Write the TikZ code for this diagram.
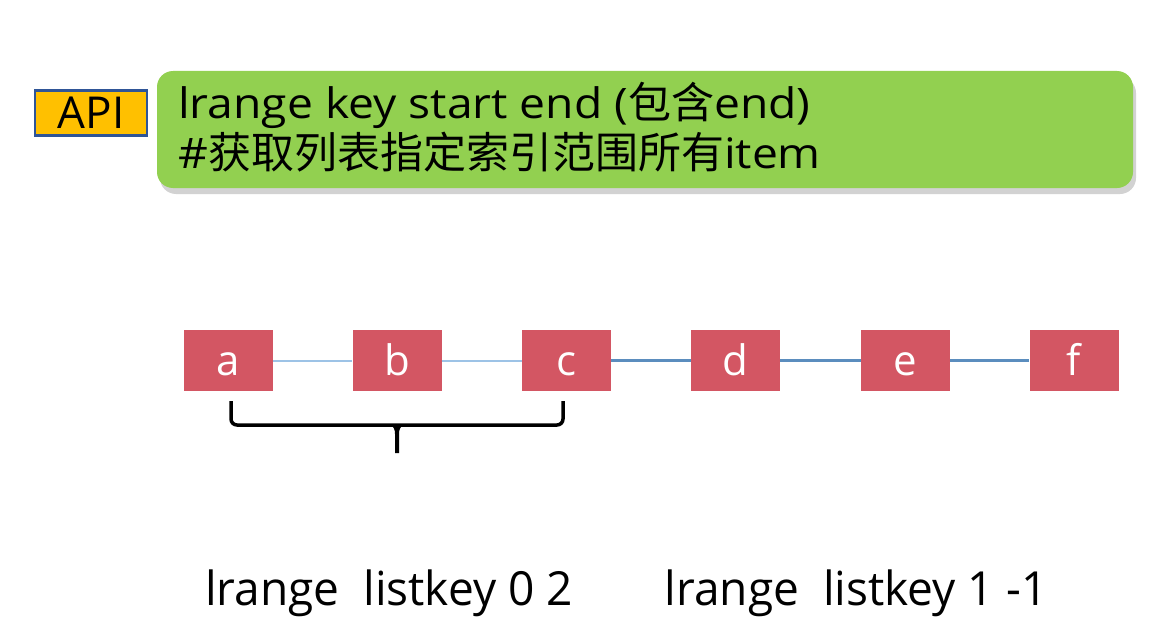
\documentclass[tikz,border=0pt]{standalone}
\usepackage{fontspec}
\setmainfont{Open Sans}
\newfontfamily\cjk{Noto Sans CJK SC}
\newfontfamily\wide[FakeStretch=1.1]{Open Sans}
\newfontfamily\narrow[FakeStretch=0.98]{Open Sans}
\usetikzlibrary{shadows}
\definecolor{boxred}{HTML}{D35663}
\definecolor{apigreen}{HTML}{92D050}
\definecolor{apiyellow}{HTML}{FFC000}
\definecolor{apiblue}{HTML}{2F5597}
\definecolor{lightlink}{HTML}{9DC3E6}
\definecolor{darklink}{HTML}{5B8DBE}
\tikzset{
  elem/.style={fill=boxred, minimum width=89pt, minimum height=61pt, inner sep=0pt,
    text=white, text height=29pt, text depth=0pt, font=\fontsize{42}{42}\selectfont},
  linklight/.style={draw=lightlink, line width=2pt},
  linkdark/.style={draw=darklink, line width=2.5pt},
  cmd/.style={font=\narrow\fontsize{47}{47}\selectfont, inner sep=0pt, anchor=base},
  desctext/.style={anchor=base west, inner sep=0pt, font=\wide\fontsize{42}{42}\selectfont},
  bracestyle/.style={draw=black, line width=3.5pt, rounded corners=6pt}
}
\newcommand{\zh}[1]{{\cjk\fontsize{43}{43}\selectfont #1}}
\begin{document}
\begin{tikzpicture}[x=1pt,y=-1pt]
\useasboundingbox[fill=white] (0,0) rectangle (1162,626);
% API label
\node[draw=apiblue, line width=2.5pt, fill=apiyellow, minimum width=112pt, minimum height=45pt,
  inner sep=0pt, font=\fontsize{44}{44}\selectfont] (api) at (91,113) {API};
% green box
\node[fill=apigreen, rounded corners=16pt, minimum width=976pt, minimum height=117pt, inner sep=0pt,
  drop shadow={opacity=0.35, shadow xshift=3pt, shadow yshift=-6pt}] (desc) at (645,129.5) {};
\node[desctext] (l1) at (178,118) {lrange key start end (\zh{包含}end)};
\node[desctext] (l2) at (178,168) {\#\zh{获取列表指定索引范围所有}item};
% elements
\node[elem] (a) at (228.5,360.5) {a};
\node[elem] (b) at (397,360.5) {b};
\node[elem] (c) at (566.5,360.5) {c};
\node[elem] (d) at (735.5,360.5) {d};
\node[elem] (e) at (905.5,360.5) {e};
\node[elem] (f) at (1074,360.5) {f};
\draw[linklight] (a) -- (b);
\draw[linklight] (b) -- (c);
\draw[linkdark] (c) -- (d);
\draw[linkdark] (d) -- (e);
\draw[linkdark] (e) -- (f);
% brace
\coordinate (bl) at (231,401);
\coordinate (br) at (563,401);
\coordinate (bm) at (397,453);
\draw[bracestyle] (bl) -- (231,425) -- (563,425) -- (br);
\fill[black] (389,424) .. controls (394,426) and (395,430) .. (395,434) -- (395,453)
  -- (399,453) -- (399,434) .. controls (399,430) and (400,426) .. (405,424) -- cycle;
% commands
\node[cmd] (q1) at (389,605) {lrange\ \ listkey 0 2};
\node[cmd] (q2) at (856,605) {lrange\ \ listkey 1 -1};
\end{tikzpicture}
\end{document}
